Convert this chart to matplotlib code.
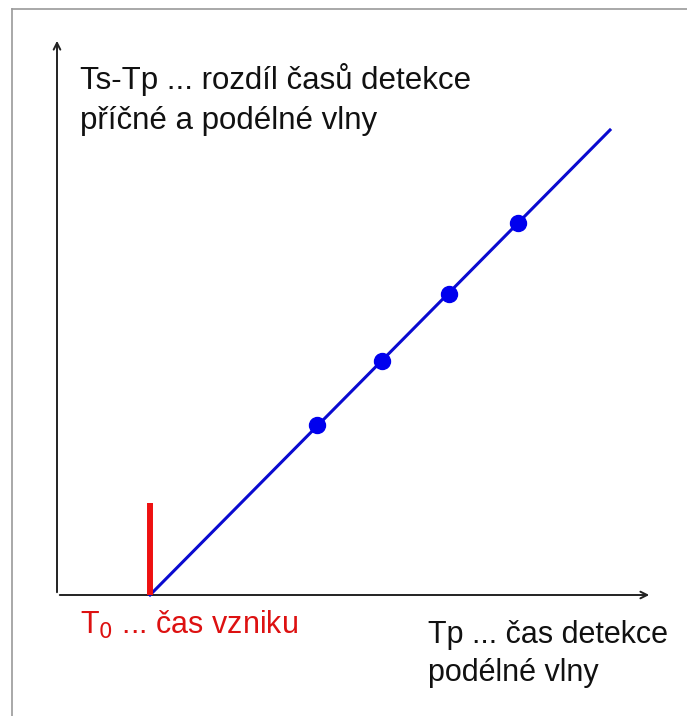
import matplotlib.pyplot as plt
from matplotlib.lines import Line2D

# diagram data (arbitrary units: Tp on x, Ts-Tp on y)
t0 = 93
line_x = [93, 553]
line_y = [0, 465]
point_x = [260, 325, 392, 461]
point_y = [170, 234, 301, 372]
t0_bar_height = 92

x_axis_end = 595
y_axis_end = 557

y_label = ['Ts-Tp ... rozdíl časů detekce', 'příčné a podélné vlny']
x_label = ['Tp ... čas detekce', 'podélné vlny']
t0_label = 'T$_0$ ... čas vzniku'

plt.rcParams['font.family'] = ['Liberation Sans', 'DejaVu Sans']

fig = plt.figure(figsize=(6.87, 7.16), dpi=100)
ax = fig.add_axes([0, 0, 1, 1])
ax.set_xlim(-57, 630)
ax.set_ylim(-121, 595)
ax.axis('off')

# frame lines of the original slide
fig.add_artist(Line2D([12 / 687, 1], [1 - 9 / 716, 1 - 9 / 716], color='#9a9a9a', lw=1.2))
fig.add_artist(Line2D([12 / 687, 12 / 687], [0, 1 - 9 / 716], color='#9a9a9a', lw=1.2))

# axes arrows
arrow = dict(arrowstyle='->', color='#222222', lw=1.4, mutation_scale=12)
ax.annotate('', xy=(x_axis_end, 0), xytext=(0, 0), arrowprops=arrow)
ax.annotate('', xy=(0, y_axis_end), xytext=(0, 0), arrowprops=arrow)

ax.plot(line_x, line_y, color='#0a0ad0', lw=2.2, zorder=3)
ax.plot(point_x, point_y, 'o', color='#0000ee', markersize=11.5, zorder=4)
ax.plot([t0, t0], [0, t0_bar_height], color='#ee1111', lw=4.3, solid_capstyle='butt', zorder=5)

for i, s in enumerate(y_label):
    ax.text(23, 506 - 40 * i, s, fontsize=22.5, color='#111111', va='baseline', ha='left')
ax.text(23, -39, t0_label, fontsize=22, color='#dd1111', va='baseline', ha='left')
for i, s in enumerate(x_label):
    ax.text(371, -48 - 38 * i, s, fontsize=22, color='#111111', va='baseline', ha='left')

fig.savefig('out.png', dpi=100)
